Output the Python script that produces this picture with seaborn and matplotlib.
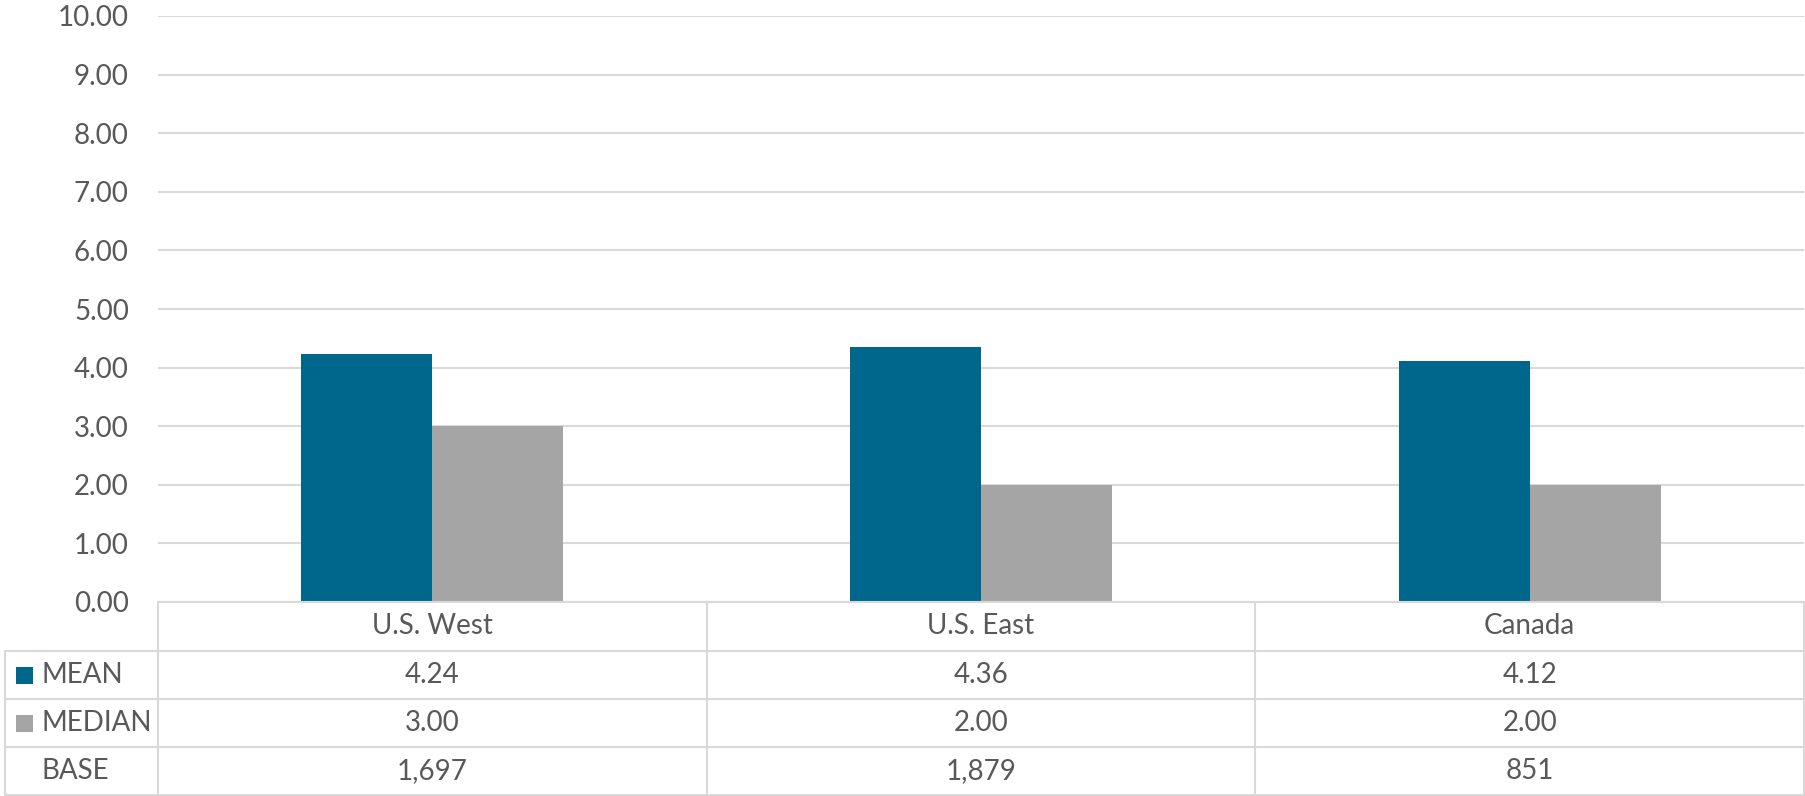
import seaborn as sns
import matplotlib.pyplot as plt
import matplotlib.transforms as mtransforms
from matplotlib.lines import Line2D
from matplotlib.patches import Rectangle
import numpy as np
import pandas as pd

# chart data
regions = ['U.S. West', 'U.S. East', 'Canada']
series = ['MEAN', 'MEDIAN']
mean_vals = [4.24, 4.36, 4.12]
median_vals = [3.00, 2.00, 2.00]
base_counts = [1697, 1879, 851]
colors = ['#00678c', '#a5a5a5']

W, H = 1806, 796
grid_color = '#d9d9d9'
text_color = '#595959'
font = 'Lato'
fsize = 20

df = pd.DataFrame({
    'region': regions * 2,
    'series': [series[0]] * 3 + [series[1]] * 3,
    'value': mean_vals + median_vals,
})

sns.set_style('white')
plt.rcParams['font.family'] = [font, 'DejaVu Sans']

fig = plt.figure(figsize=(W / 100, H / 100), dpi=100)
ax = fig.add_axes([158 / W, 1 - 602 / H, (1804 - 158) / W, (602 - 16) / H])

sns.barplot(data=df, x='region', y='value', hue='series', palette=colors,
            width=0.478, gap=0, saturation=1, legend=False, linewidth=0, ax=ax)

ax.set_xlim(-0.5, 2.5)
ax.set_ylim(0, 10)
ax.set_yticks(np.arange(0, 11, 1))
ax.set_yticklabels([f'{t:.2f}' for t in np.arange(0, 11, 1)])
ax.tick_params(axis='y', length=0, pad=21, labelsize=fsize, labelcolor=text_color)
ax.set_xticks([])
ax.set_xlabel('')
ax.set_ylabel('')
ax.yaxis.grid(True, color=grid_color, lw=1.5)
ax.set_axisbelow(True)
for s in ax.spines.values():
    s.set_visible(False)

# data table under the plot
blend = mtransforms.blended_transform_factory(ax.transData, fig.transFigure)
fy = lambda py: 1 - py / H
rows = [602, 651, 699, 747, 795]

def hline(x0, x1, py):
    fig.add_artist(Line2D([x0 / W, x1 / W], [fy(py), fy(py)], transform=fig.transFigure,
                          color=grid_color, lw=1.5))

hline(158, 1804, rows[0])
for py in rows[1:]:
    hline(5, 1804, py)
fig.add_artist(Line2D([5 / W, 5 / W], [fy(rows[1]), fy(rows[-1])], transform=fig.transFigure,
                      color=grid_color, lw=1.5))
for xb in [-0.5, 0.5, 1.5, 2.5]:
    fig.add_artist(Line2D([xb, xb], [fy(rows[0]), fy(rows[-1])], transform=blend,
                          color=grid_color, lw=1.5))

centers = [(rows[i] + rows[i + 1]) / 2 for i in range(4)]
for i, reg in enumerate(regions):
    fig.text(i, fy(centers[0]), reg, transform=blend, ha='center', va='center',
             fontsize=fsize, color=text_color)
    fig.text(i, fy(centers[1]), f'{mean_vals[i]:.2f}', transform=blend, ha='center',
             va='center', fontsize=fsize, color=text_color)
    fig.text(i, fy(centers[2]), f'{median_vals[i]:.2f}', transform=blend, ha='center',
             va='center', fontsize=fsize, color=text_color)
    fig.text(i, fy(centers[3]), f'{base_counts[i]:,}', transform=blend, ha='center',
             va='center', fontsize=fsize, color=text_color)

# row labels with legend keys
for j, (name, col) in enumerate(zip(series, colors)):
    cy = centers[j + 1]
    fig.add_artist(Rectangle((16 / W, fy(cy + 9)), 17 / W, 17 / H, transform=fig.transFigure,
                             facecolor=col, edgecolor='none'))
    fig.text(42 / W, fy(cy), name, ha='left', va='center', fontsize=fsize, color=text_color)
fig.text(42 / W, fy(centers[3]), 'BASE', ha='left', va='center', fontsize=fsize, color=text_color)

fig.savefig('out.png', dpi=100)
plt.close(fig)
